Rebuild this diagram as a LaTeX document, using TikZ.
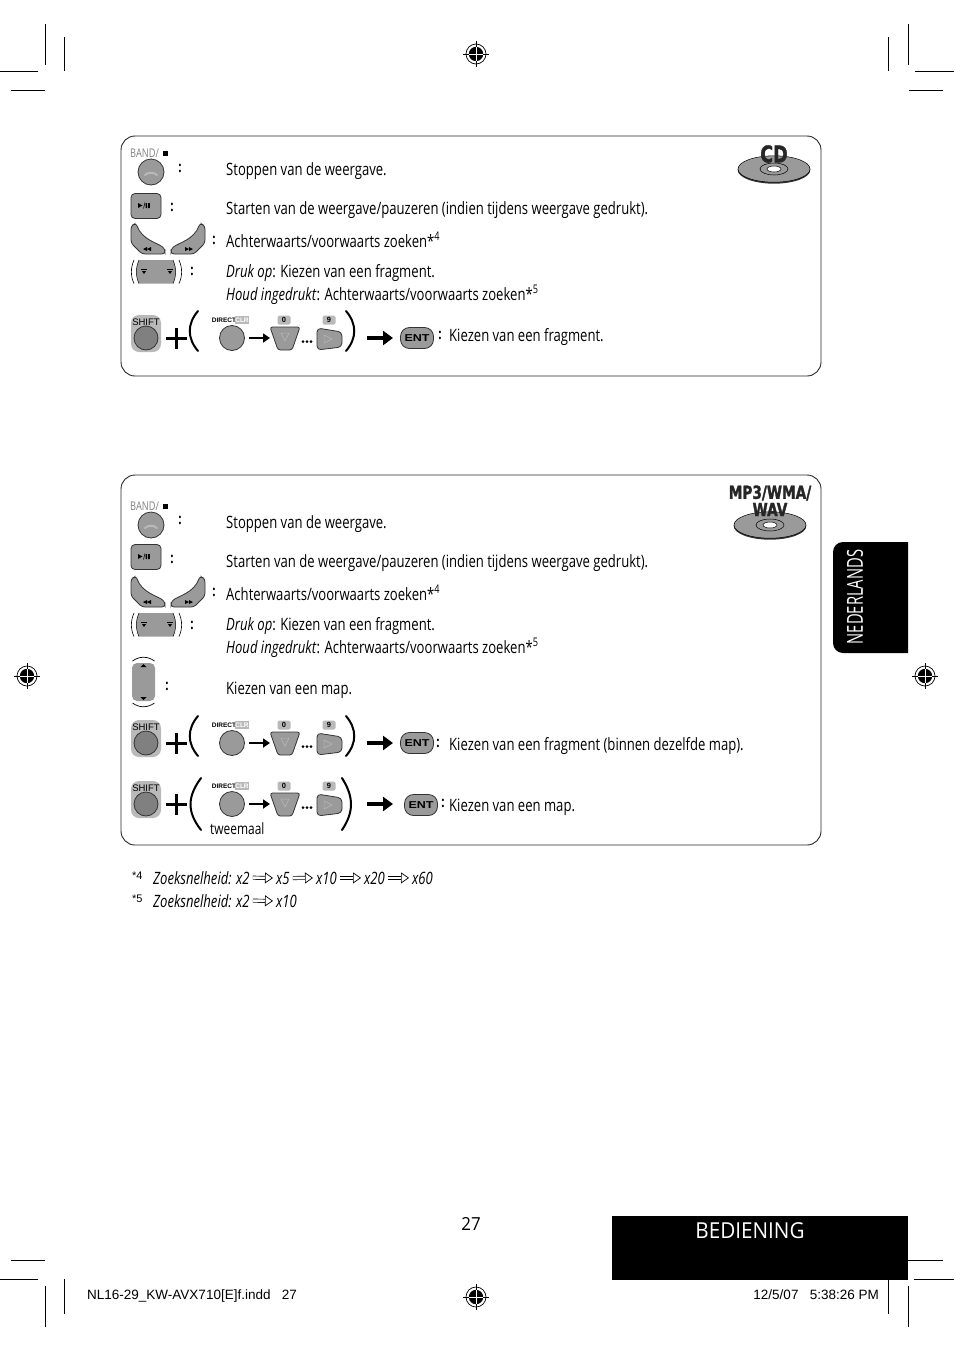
\documentclass[tikz,border=0pt]{standalone}
\usepackage{fontspec}
\setmainfont[FakeStretch=0.77]{Open Sans}
\newfontfamily\keyfont{Liberation Sans}
\newfontfamily\entfont[FakeStretch=1.25]{Liberation Sans}
\newfontfamily\sidefont[FakeStretch=0.67]{Open Sans}
\newfontfamily\tabfont[FakeStretch=0.94]{Open Sans}
\newfontfamily\logofont[FakeStretch=0.76,BoldFeatures={FakeBold=1.6}]{DejaVu Sans}
\usetikzlibrary{arrows.meta,positioning}
\definecolor{keygray}{HTML}{9A9A9A}
\definecolor{keydark}{HTML}{808080}
\definecolor{keylight}{HTML}{B9B9B9}
\tikzset{
  rowtext/.style={anchor=base west,inner sep=0pt,font=\fontsize{17}{20}\selectfont},
  colonmark/.style={inner sep=0pt,font=\fontsize{15}{15}\selectfont\bfseries},
  panel/.style={draw=black!85,line width=.9pt,rounded corners=14pt},
  cropmark/.style={line width=.8pt},
  keyshape/.style={draw=black!80,fill=keygray,line width=.8pt},
  keyround/.style={circle,draw=black!80,fill=keygray,line width=.8pt,inner sep=0pt},
  keylabel/.style={rounded corners=1.5pt,fill=keylight,inner sep=0pt,minimum width=13pt,minimum height=9pt,font=\keyfont\bfseries\fontsize{7.5}{8}\selectfont},
  thinarrow/.style={line width=2.8pt,shorten <=4pt,-{Triangle[length=7pt,width=9pt]}},
  bigarrow/.style={line width=4.4pt,-{Triangle[length=10pt,width=14pt]}},
  bigparen/.style={line width=2pt,line cap=round},
  hollowarrow/.style={double,double distance=2.6pt,line width=.7pt,shorten <=3pt,shorten >=3pt,-{Triangle[open,fill=white,length=8pt,width=11pt,line width=.7pt]}},
  noteword/.style={anchor=base west,inner sep=0pt,font=\fontsize{17}{20}\selectfont\itshape},
  notemark/.style={anchor=base west,inner sep=0pt,font=\keyfont\fontsize{11}{11}\selectfont},
  % pictures of the keys
  regmark/.pic={
    \draw[line width=.6pt] (-13,0) -- (13,0) (0,-13) -- (0,13);
    \draw[line width=.7pt] (0,0) circle (10);
    \fill (0,0) circle (7.2);
    \draw[white,line width=1pt] (-7.2,0) -- (7.2,0) (0,-7.2) -- (0,7.2);
  },
  bandkey/.pic={
    \node[anchor=west,inner sep=0pt,text=black!50,font=\fontsize{12}{12}\selectfont] (lab) at (-21,-19) {BAND/};
    \fill (12,-21.5) rectangle (17,-16.5);
    \node[keyround,minimum size=26pt] (btn) at (0,0) {};
    \draw[line width=2pt,keylight,line cap=round] (-6,3) .. controls (-3,0) and (3,0) .. (6,3);
  },
  playkey/.pic={
    \draw[keyshape,rounded corners=4pt] (-15,-12.5) rectangle (15,12.5);
    \fill (-8,-3) -- (-8,2) -- (-3.5,-.5) -- cycle;
    \draw[line width=.5pt] (-2.5,2.5) -- (-1,-3.5);
    \fill (-.5,-3) rectangle (1.2,2) (2.2,-3) rectangle (3.9,2);
  },
  swoopkeys/.pic={
    \draw[keyshape,rounded corners=3pt] (-37,-28) -- (-32,-31) .. controls (-26,-14) and (-10,-11) .. (-3,-5) -- (-3,0) -- (-26,0) -- (-37,-11) -- cycle;
    \draw[keyshape,rounded corners=3pt] (37,-28) -- (32,-31) .. controls (26,-14) and (10,-11) .. (3,-5) -- (3,0) -- (26,0) -- (37,-11) -- cycle;
    \fill (-21,-5) -- (-17,-7) -- (-17,-3) -- cycle (-25,-5) -- (-21,-7) -- (-21,-3) -- cycle;
    \fill (21,-5) -- (17,-7) -- (17,-3) -- cycle (25,-5) -- (21,-7) -- (21,-3) -- cycle;
  },
  seekkey/.pic={
    \fill[keygray] (-18,-12) .. controls (-21.5,-4) and (-21.5,4) .. (-18,11.5) -- (16,11.5) .. controls (19.5,4) and (19.5,-4) .. (16,-12) -- cycle;
    \draw[line width=.6pt] (-23,-12) .. controls (-26.5,-4) and (-26.5,4) .. (-23,11.5);
    \draw[line width=.6pt] (22,-12) .. controls (25.5,-4) and (25.5,4) .. (22,11.5);
    \draw[line width=.5pt] (-18,-12) .. controls (-21.5,-4) and (-21.5,4) .. (-18,11.5);
    \draw[line width=.5pt] (16,-12) .. controls (19.5,-4) and (19.5,4) .. (16,11.5);
    \fill (-15,-1) -- (-11,-1) -- (-13,2) -- cycle (15,-1) -- (11,-1) -- (13,2) -- cycle;
    \draw[line width=.5pt] (-16,-3) -- (-10,-3) (16,-3) -- (10,-3);
  },
  mapkey/.pic={
    \fill[keygray,rounded corners=5pt] (-11.5,-19) rectangle (11.5,19);
    \draw[line width=.7pt] (-11,-21) .. controls (-4,-26) and (4,-26) .. (11,-21);
    \draw[line width=.7pt] (-11,21) .. controls (-4,26) and (4,26) .. (11,21);
    \fill (-3,-15) -- (3,-15) -- (0,-18) -- cycle (-3,15) -- (3,15) -- (0,18) -- cycle;
  },
  shiftkey/.pic={
    \fill[keylight,rounded corners=8pt] (-15,-23) rectangle (15,14);
    \node[inner sep=0pt,font=\keyfont\fontsize{9.5}{10}\selectfont] (lab) at (0,-16) {SHIFT};
    \node[keyround,fill=keydark,minimum size=24pt] (btn) at (0,0) {};
  },
  digitkeys/.pic={
    \node[inner sep=0pt,font=\keyfont\bfseries\fontsize{6.5}{7}\selectfont] (dir) at (-8,-18) {DIRECT};
    \node[inner sep=0pt,fill=keylight,text=white,minimum width=12pt,minimum height=8pt,font=\keyfont\bfseries\fontsize{6.5}{7}\selectfont] (clr) at (10,-18) {CLR};
    \node[keyround,minimum size=25pt] (btn) at (0,0) {};
    \coordinate (zerokey) at (38,0);
    \draw[thinarrow] (btn) -- (zerokey);
    \node[keylabel] (zero) at (52,-18) {0};
    \node[keylabel] (nine) at (97,-18) {9};
    \draw[keyshape,rounded corners=2.5pt] (38,-11) -- (68,-11) -- (60,12) -- (46,12) -- cycle;
    \draw[keylight,line width=.5pt] (49,-5) -- (57,-5) -- (53,3) -- cycle;
    \draw[keyshape,rounded corners=4pt] (85,-10) -- (110,-6) -- (110,9) -- (85,12) -- cycle;
    \draw[keylight,line width=.5pt] (92,-3) -- (100,1) -- (92,5) -- cycle;
    \fill (71,3.5) circle (1.5) (75,3.5) circle (1.5) (79,3.5) circle (1.5);
  },
  entkey/.pic={
    \node[draw=black!80,fill=keygray,line width=.8pt,rounded corners=9pt,minimum width=33pt,minimum height=21pt,inner sep=0pt,font=\entfont\bfseries\fontsize{10}{11}\selectfont] (btn) at (0,0) {ENT};
  },
  disc/.pic={
    \fill[black!80] (0,1) ellipse (36.3 and 13.7);
    \draw[fill=keygray,line width=.5pt] (0,0) ellipse (36 and 13.2);
    \draw[line width=.5pt] (0,0) ellipse (14 and 6);
    \draw[fill=white,line width=.5pt] (0,0) ellipse (7 and 3);
  },
}
\begin{document}
\begin{tikzpicture}[x=1pt,y=-1pt]
\useasboundingbox (0,0) rectangle (954,1352);

% crop marks
\foreach \xa/\ya/\xb/\yb in {0/71/38/71,11/90/45/90,45/24/45/65,64/37/64/71,
    915/71/954/71,909/90/943/90,908/24/908/65,888/37/888/71,
    11/1260/45/1260,0/1279/38/1279,64/1279/64/1314,45/1286/45/1327,
    908/1260/943/1260,914/1279/954/1279,888/1280/888/1314,908/1286/908/1327}
  \draw[cropmark] (\xa,\ya) -- (\xb,\yb);
\foreach \xa/\ya in {476/54,476/1297,27/676,925/676}
  \pic at (\xa,\ya) {regmark};

% black tabs
\fill (908,542) [rounded corners=10pt] -- (833,542) -- (833,653) [sharp corners] -- (908,653) -- cycle;
\fill (612,1216) rectangle (908,1280);
\node[text=white,rotate=90,inner sep=0pt,font=\sidefont\fontsize{22}{24}\selectfont] (langtab) at (855,597) {NEDERLANDS};
\node[text=white,inner sep=0pt,font=\tabfont\fontsize{22}{24}\selectfont] (chaptertab) at (750,1231) {BEDIENING};
\node[inner sep=0pt,font=\tabfont\fontsize{18}{20}\selectfont] (pagenr) at (471,1224) {27};
\node[anchor=base west,inner sep=0pt,font=\keyfont\fontsize{13.5}{15}\selectfont] (slugleft) at (87,1299) {NL16-29\_KW-AVX710[E]f.indd\ \ \ 27};
\node[anchor=base east,inner sep=0pt,font=\keyfont\fontsize{13.5}{15}\selectfont] (slugright) at (879,1299) {12/5/07\ \ \ 5:38:26 PM};

% panels
\draw[panel] (121,136) rectangle (821,376);
\draw[panel] (121,475) rectangle (821,845);

% CD panel
\pic at (774,169) {disc};
\node[inner sep=0pt,text=black!85,font=\logofont\bfseries\fontsize{23}{24}\selectfont] (cdlogo) at (774,154) {CD};
\pic (bandA) at (151,172) {bandkey};
\pic (playA) at (146,206) {playkey};
\pic (swoopA) at (168,254) {swoopkeys};
\pic (seekA) at (157,272) {seekkey};
\node[colonmark] (colA) at (180,168) {:};
\node[colonmark] (colB) at (172,207) {:};
\node[colonmark] (colC) at (214,240) {:};
\node[colonmark] (colD) at (192,271) {:};
\node[rowtext] (stopA) at (226,175) {Stoppen van de weergave.};
\node[rowtext] (startA) at (226,214) {Starten van de weergave/pauzeren (indien tijdens weergave gedrukt).};
\node[rowtext] (zoekA) at (226,247) {Achterwaarts/voorwaarts zoeken*\textsuperscript{4}};
\node[rowtext] (drukA) at (226,277) {\textit{Druk op}: Kiezen van een fragment.};
\node[rowtext] (houdA) at (226,300) {\textit{Houd ingedrukt}: Achterwaarts/voorwaarts zoeken*\textsuperscript{5}};
\pic (shiftA) at (146,338) {shiftkey};
\draw[line width=3pt] (166,338) -- (187,338) (176.5,328) -- (176.5,349);
\draw[bigparen] (198,311) .. controls (187,324) and (187,338) .. (198,351);
\pic (digitA) at (232,338) {digitkeys};
\draw[bigparen] (346,311) .. controls (357,324) and (357,338) .. (346,351);
\coordinate (arrA) at (367,338);
\coordinate (arrB) at (393,338);
\draw[bigarrow] (arrA) -- (arrB);
\pic (entA) at (417,338) {entkey};
\node[colonmark] (colE) at (440,335) {:};
\node[rowtext] (kiesA) at (449,341) {Kiezen van een fragment.};

% MP3 panel
\pic at (770,525) {disc};
\node[inner sep=0pt,text=black!85,font=\logofont\bfseries\fontsize{18}{20}\selectfont] (mplogo) at (770,493) {MP3/WMA/};
\node[below=2pt of mplogo,inner sep=0pt,text=black!85,font=\logofont\bfseries\fontsize{18}{20}\selectfont] (wavlogo) {WAV};
\pic (bandB) at (151,525) {bandkey};
\pic (playB) at (146,557) {playkey};
\pic (swoopB) at (168,607) {swoopkeys};
\pic (seekB) at (157,625) {seekkey};
\pic (mapB) at (143.5,682) {mapkey};
\node[colonmark] (colF) at (180,520) {:};
\node[colonmark] (colG) at (172,559) {:};
\node[colonmark] (colH) at (214,592) {:};
\node[colonmark] (colI) at (192,625) {:};
\node[colonmark] (colJ) at (167,686) {:};
\node[rowtext] (stopB) at (226,528) {Stoppen van de weergave.};
\node[rowtext] (startB) at (226,567) {Starten van de weergave/pauzeren (indien tijdens weergave gedrukt).};
\node[rowtext] (zoekB) at (226,600) {Achterwaarts/voorwaarts zoeken*\textsuperscript{4}};
\node[rowtext] (drukB) at (226,630) {\textit{Druk op}: Kiezen van een fragment.};
\node[rowtext] (houdB) at (226,653) {\textit{Houd ingedrukt}: Achterwaarts/voorwaarts zoeken*\textsuperscript{5}};
\node[rowtext] (mapT) at (226,694) {Kiezen van een map.};

\pic (shiftB) at (146,743) {shiftkey};
\draw[line width=3pt] (166,743) -- (187,743) (176.5,733) -- (176.5,754);
\draw[bigparen] (198,716) .. controls (187,729) and (187,743) .. (198,756);
\pic (digitB) at (232,743) {digitkeys};
\draw[bigparen] (346,716) .. controls (357,729) and (357,743) .. (346,756);
\coordinate (arrC) at (367,743);
\coordinate (arrD) at (393,743);
\draw[bigarrow] (arrC) -- (arrD);
\pic (entB) at (417,743) {entkey};
\node[colonmark] (colK) at (438,743) {:};
\node[rowtext] (kiesB) at (449,750) {Kiezen van een fragment (binnen dezelfde map).};

\pic (shiftC) at (146,804) {shiftkey};
\draw[line width=3pt] (166,804) -- (187,804) (176.5,794) -- (176.5,815);
\draw[bigparen] (201,778) .. controls (187,797) and (187,812) .. (201,830);
\pic (digitC) at (232,804) {digitkeys};
\draw[bigparen] (342,778) .. controls (354,797) and (354,812) .. (342,830);
\coordinate (arrE) at (367,804);
\coordinate (arrF) at (393,804);
\draw[bigarrow] (arrE) -- (arrF);
\pic (entC) at (421,805) {entkey};
\node[colonmark] (colL) at (443,803) {:};
\node[rowtext] (kiesC) at (449,811) {Kiezen van een map.};
\node[rowtext,font=\fontsize{15.5}{18}\selectfont] (twee) at (210,834) {tweemaal};

% footnotes
\node[notemark] (markA) at (132,879) {*4};
\node[noteword] (noteA) at (153,884) {Zoeksnelheid: x2};
\node[noteword] (spA) at (276,884) {x5};
\node[noteword] (spB) at (316,884) {x10};
\node[noteword] (spC) at (364,884) {x20};
\node[noteword] (spD) at (412,884) {x60};
\draw[hollowarrow] (noteA.east) -- (spA.west);
\draw[hollowarrow] (spA.east) -- (spB.west);
\draw[hollowarrow] (spB.east) -- (spC.west);
\draw[hollowarrow] (spC.east) -- (spD.west);
\node[notemark] (markB) at (132,902) {*5};
\node[noteword] (noteB) at (153,907) {Zoeksnelheid: x2};
\node[noteword] (spE) at (276,907) {x10};
\draw[hollowarrow] (noteB.east) -- (spE.west);
\end{tikzpicture}
\end{document}
